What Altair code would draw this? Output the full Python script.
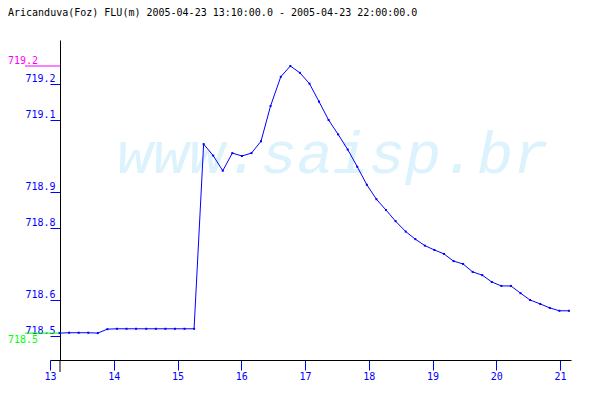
import altair as alt
import pandas as pd

title_text = "Aricanduva(Foz) FLU(m) 2005-04-23 13:10:00.0 - 2005-04-23 22:00:00.0"
watermark_text = "www.saisp.br"

hours = [13.15, 13.30, 13.45, 13.60, 13.75, 13.90, 14.05, 14.20, 14.35, 14.51,
         14.66, 14.81, 14.96, 15.11, 15.26, 15.41, 15.56, 15.71, 15.86, 16.01,
         16.16, 16.31, 16.46, 16.62, 16.77, 16.92, 17.07, 17.22, 17.37, 17.52,
         17.67, 17.82, 17.97, 18.12, 18.27, 18.42, 18.58, 18.73, 18.88, 19.03,
         19.18, 19.33, 19.48, 19.63, 19.78, 19.93, 20.08, 20.23, 20.38, 20.53,
         20.69, 20.84, 20.99, 21.14]
levels = [718.508, 718.509, 718.509, 718.509, 718.508, 718.519, 718.520, 718.520, 718.520, 718.520,
          718.520, 718.520, 718.520, 718.520, 718.520, 719.033, 719.001, 718.959, 719.008, 719.000,
          719.008, 719.041, 719.139, 719.220, 719.250, 719.231, 719.201, 719.151, 719.100, 719.060,
          719.018, 718.970, 718.920, 718.880, 718.850, 718.819, 718.790, 718.769, 718.751, 718.739,
          718.728, 718.708, 718.700, 718.678, 718.669, 718.650, 718.639, 718.639, 718.619, 718.600,
          718.589, 718.578, 718.570, 718.570]

x_ticks = [13, 14, 15, 16, 17, 18, 19, 20, 21]
y_ticks = [718.5, 718.6, 718.8, 718.9, 719.1, 719.2]

threshold_values = [719.25, 718.508]
threshold_labels = ["719.2", "718.5"]
threshold_colors = ["#ff00ff", "#00ff00"]
threshold_kind = ["max", "min"]

BLUE = "#0000ff"
MONO = "DejaVu Sans Mono"

df = pd.DataFrame({"hour": hours, "level": levels})
thr = pd.DataFrame({"level": threshold_values, "label": threshold_labels,
                    "color": threshold_colors, "kind": threshold_kind})

xs = alt.Scale(domain=[13, 21.1725], nice=False, zero=False)
ys = alt.Scale(domain=[718.4333, 719.3222], nice=False, zero=False)

x_axis = alt.Axis(
    values=x_ticks, format="d", title=None, grid=False, tickSize=10, tickWidth=1,
    tickColor=BLUE, domainColor="#000000", domainWidth=1, labelColor=BLUE,
    labelFont=MONO, labelFontSize=10, labelPadding=1, labelFlush=False,
    labelOverlap=False)
y_axis = alt.Axis(
    values=y_ticks, format=".1f", title=None, grid=False, offset=-10, tickSize=10,
    tickWidth=1, tickColor=BLUE, domainColor="#000000", domainWidth=1,
    labelColor=BLUE, labelFont=MONO, labelFontSize=10, labelAlign="right",
    labelBaseline="alphabetic", labelPadding=-5, labelOffset=-2,
    labelFlush=False, labelOverlap=False)

x_enc = alt.X("hour:Q", scale=xs, axis=x_axis)
y_enc = alt.Y("level:Q", scale=ys, axis=y_axis)

base = alt.Chart(df)

watermark = alt.Chart(pd.DataFrame({"t": [watermark_text]})).mark_text(
    font="Liberation Mono", fontStyle="italic", fontSize=60, color="#dcf2fd",
    align="center", baseline="alphabetic"
).encode(text="t:N", x=alt.value(283), y=alt.value(133))

thr_rules = alt.Chart(thr).mark_rule(strokeWidth=1).encode(
    y=y_enc,
    x=alt.value(-25), x2=alt.value(10),
    color=alt.Color("color:N", scale=None, legend=None))

thr_text_max = alt.Chart(thr).transform_filter(alt.datum.kind == "max").mark_text(
    font=MONO, fontSize=10, align="left", baseline="alphabetic", dy=-2
).encode(
    y=y_enc, x=alt.value(-42),
    text="label:N", color=alt.Color("color:N", scale=None, legend=None))

thr_text_min = alt.Chart(thr).transform_filter(alt.datum.kind == "min").mark_text(
    font=MONO, fontSize=10, align="left", baseline="top", dy=2
).encode(
    y=y_enc, x=alt.value(-42),
    text="label:N", color=alt.Color("color:N", scale=None, legend=None))

line = base.mark_line(color=BLUE, strokeWidth=1).encode(x=x_enc, y=y_enc)
pts = base.mark_square(color=BLUE, size=4, opacity=1).encode(x=x_enc, y=y_enc)

yext = alt.Chart(pd.DataFrame({"a": [0]})).mark_rule(color="#000000", strokeWidth=1).encode(
    x=alt.value(10), y=alt.value(320), y2=alt.value(332))

title = alt.Chart(pd.DataFrame({"t": [title_text]})).mark_text(
    font=MONO, fontSize=10, color="#000000", align="left", baseline="alphabetic"
).encode(text="t:N", x=alt.value(-42), y=alt.value(-24.5))

chart = alt.layer(watermark, thr_rules, thr_text_max, thr_text_min, line, pts, yext, title).properties(
    width=521, height=320,
    autosize=alt.AutoSizeParams(type="none"),
    padding={"left": 42, "top": 32, "right": 21, "bottom": 32},
    background="#ffffff"
).configure_view(stroke=None)

chart.save("out.html", embed_options={"renderer": "svg", "actions": False})
